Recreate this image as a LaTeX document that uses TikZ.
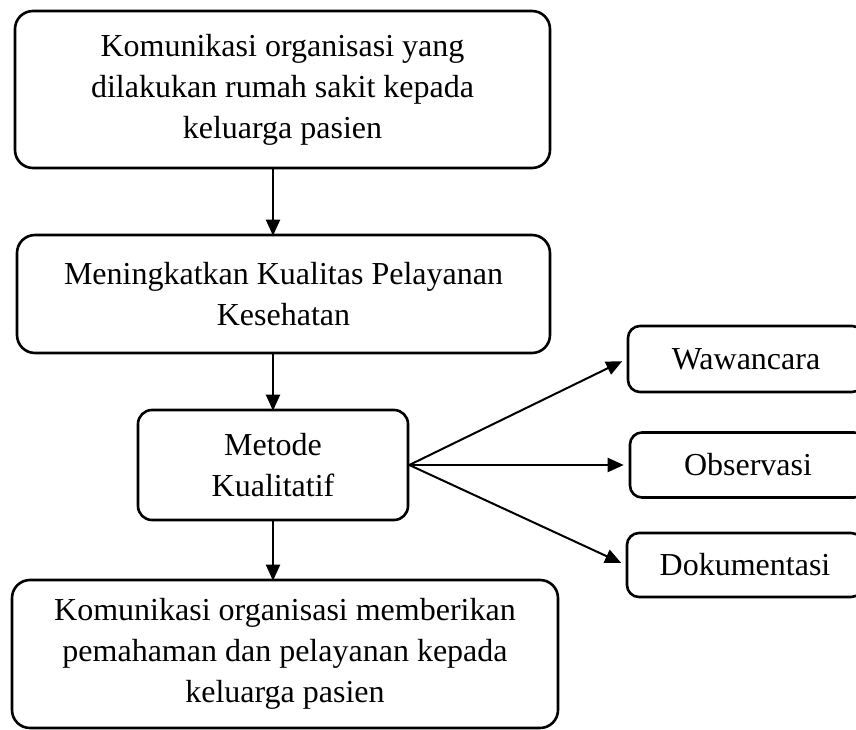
\documentclass[tikz,border=0pt]{standalone}
\usepackage{fontspec}
\setmainfont{Liberation Serif}
\usetikzlibrary{arrows.meta}

\begin{document}
\begin{tikzpicture}[x=1pt, y=-1pt,
		kotak/.style={draw, line width=2.6pt, rounded corners=18pt, align=center, inner sep=0pt, font=\fontsize{32}{41}\selectfont},
		kecil/.style={kotak, rounded corners=12pt, minimum width=236pt},
		panah/.style={-{Triangle[length=16pt, width=14pt]}, line width=2pt}]
	\clip (0,0) rectangle (856,730);

	\node[kotak, minimum width=535pt, minimum height=157pt] (awal) at (282.5,89.5) {Komunikasi organisasi yang\\dilakukan rumah sakit kepada\\keluarga pasien};
	\node[kotak, minimum width=533pt, minimum height=118pt] (mutu) at (283.5,294) {Meningkatkan Kualitas Pelayanan\\Kesehatan};
	\node[kotak, rounded corners=14pt, minimum width=270pt, minimum height=110pt] (metode) at (273,465) {Metode\\Kualitatif};
	\node[kotak, minimum width=546pt, minimum height=148pt] (hasil) at (285,654) {Komunikasi organisasi memberikan\\pemahaman dan pelayanan kepada\\keluarga pasien};

	\node[kecil, minimum height=66pt] (wawancara) at (746,359) {Wawancara};
	\node[kecil, minimum height=65pt] (observasi) at (748,465) {Observasi};
	\node[kecil, minimum height=64pt] (dokumentasi) at (745,565) {Dokumentasi};

	\draw[panah] (awal.south -| metode) -- ([yshift=-2pt]mutu.north -| metode);
	\draw[panah] (mutu.south -| metode) -- ([yshift=-2pt]metode.north);
	\draw[panah] (metode.south) -- ([yshift=-2pt]hasil.north -| metode);

	\draw[panah, shorten >=5pt] (metode.east) -- (wawancara.west);
	\draw[panah, shorten >=5pt] (metode.east) -- (observasi.west);
	\draw[panah, shorten >=5pt] (metode.east) -- (dokumentasi.west);
\end{tikzpicture}
\end{document}
